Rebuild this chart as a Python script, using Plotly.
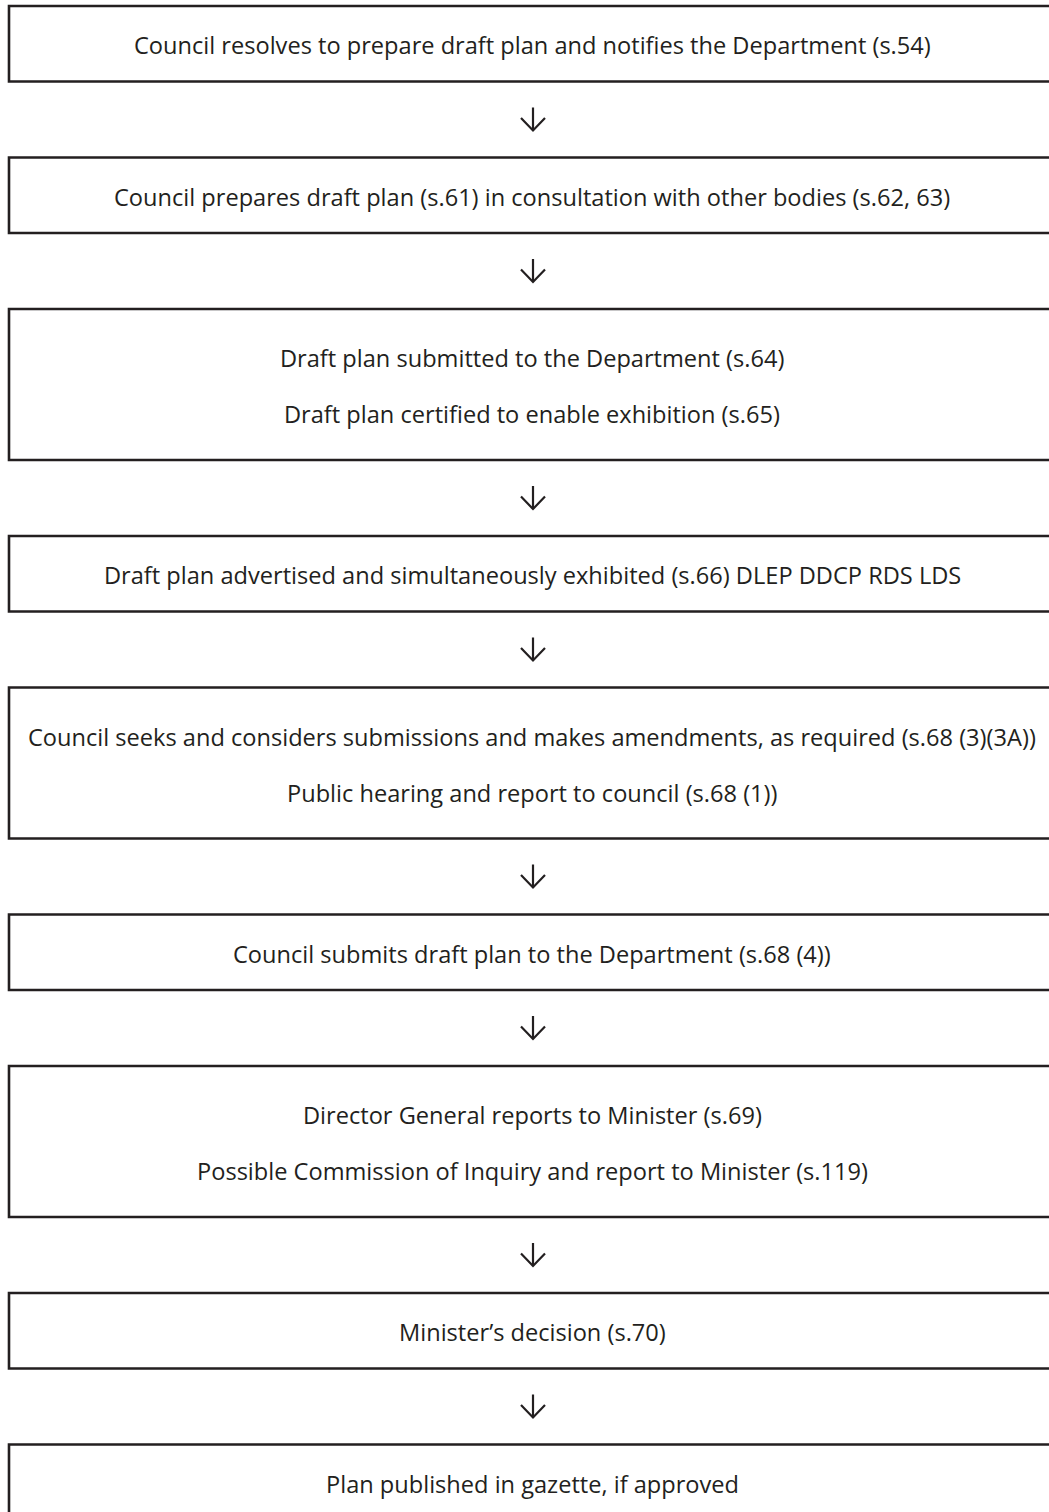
import plotly.graph_objects as go

# Flowchart steps: each step is a list of text lines
steps = [
    ["Council resolves to prepare draft plan and notifies the Department (s.54)"],
    ["Council prepares draft plan (s.61) in consultation with other bodies (s.62, 63)"],
    ["Draft plan submitted to the Department (s.64)",
     "Draft plan certified to enable exhibition (s.65)"],
    ["Draft plan advertised and simultaneously exhibited (s.66) DLEP DDCP RDS LDS"],
    ["Council seeks and considers submissions and makes amendments, as required (s.68 (3)(3A))",
     "Public hearing and report to council (s.68 (1))"],
    ["Council submits draft plan to the Department (s.68 (4))"],
    ["Director General reports to Minister (s.69)",
     "Possible Commission of Inquiry and report to Minister (s.119)"],
    ["Minister\u2019s decision (s.70)"],
    ["Plan published in gazette, if approved"],
]

W, H = 1049, 1512
INK = "#231f20"
FONT = "Open Sans"
FSIZE = 23.6

top0 = 6.0
h1 = 75.5      # single-line box height
h2 = 151.0     # two-line box height
gap = 76.0
line_off = 28.0
box_left = 9.0
box_right = W + 30
xc = 533.0

fig = go.Figure()
shapes = []
annotations = []
ax, ay = [], []

y = top0
for i, lines in enumerate(steps):
    h = h1 if len(lines) == 1 else h2
    y0, y1 = y, y + h
    shapes.append(dict(type="rect", xref="x", yref="y", x0=box_left, x1=box_right,
                       y0=y0, y1=y1, line=dict(color=INK, width=2.6),
                       fillcolor="rgba(0,0,0,0)", layer="above"))
    cy = (y0 + y1) / 2 + 1.5
    if len(lines) == 1:
        ys = [cy]
    else:
        ys = [cy - line_off, cy + line_off]
    for t, ty in zip(lines, ys):
        annotations.append(dict(x=532, y=ty, xref="x", yref="y", text=t,
                                showarrow=False, xanchor="center", yanchor="middle",
                                font=dict(family=FONT, size=FSIZE, color=INK)))
    if i < len(steps) - 1:
        gc = y1 + gap / 2
        st, en = gc - 12, gc + 11
        ax += [xc, xc, None, xc - 12, xc, xc + 12, None]
        ay += [st, en, None, en - 12.5, en, en - 12.5, None]
    y = y1 + gap

fig.add_trace(go.Scatter(x=ax, y=ay, mode="lines", line=dict(color=INK, width=2.2),
                         hoverinfo="skip", showlegend=False))

fig.update_layout(
    width=W, height=H, margin=dict(l=0, r=0, t=0, b=0),
    paper_bgcolor="white", plot_bgcolor="white",
    xaxis=dict(range=[0, W], visible=False, fixedrange=True),
    yaxis=dict(range=[H, 0], visible=False, fixedrange=True),
    shapes=shapes, annotations=annotations, showlegend=False,
)

fig.write_html("out.html", config={"displayModeBar": False},
               post_script="document.body.style.margin='0';document.body.style.overflow='hidden';")
